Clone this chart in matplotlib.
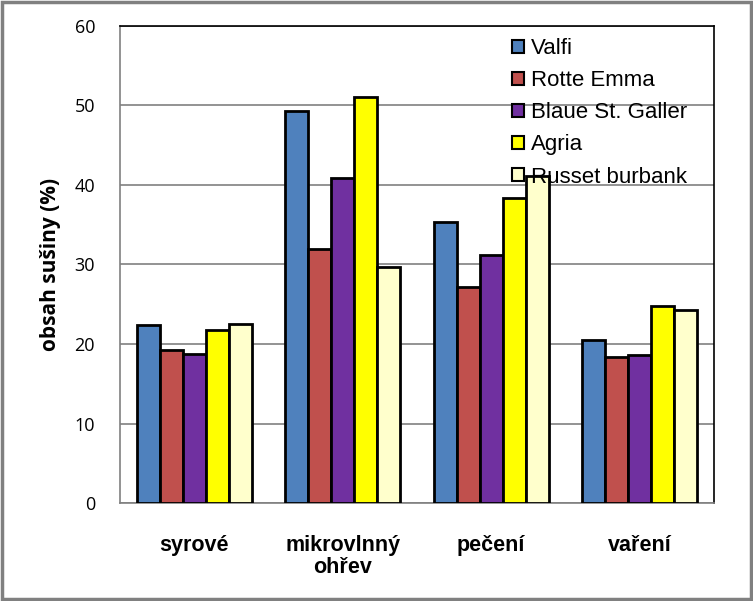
import numpy as np
import matplotlib.pyplot as plt
from matplotlib.patches import Rectangle

categories = ["syrové", "mikrovlnný\nohřev", "pečení", "vaření"]
series = ["Valfi", "Rotte Emma", "Blaue St. Galler", "Agria", "Russet burbank"]
valfi = [22.4, 49.3, 35.3, 20.5]
rotte = [19.3, 31.9, 27.2, 18.3]
blaue = [18.8, 40.9, 31.2, 18.6]
agria = [21.7, 51.1, 38.4, 24.8]
russet = [22.5, 29.7, 41.1, 24.3]
data = [valfi, rotte, blaue, agria, russet]
colors = ["#4f81bd", "#c0504d", "#7030a0", "#ffff00", "#ffffcc"]

fig = plt.figure(figsize=(7.53, 6.01), dpi=100)
fig.patches.append(Rectangle((0.003, 0.003), 0.994, 0.994, transform=fig.transFigure,
                             fill=False, edgecolor="#808080", linewidth=2.5))
ax = fig.add_axes([0.1594, 0.163, 0.7888, 0.794])

x = np.arange(len(categories))
w = 0.155
for i, (vals, c) in enumerate(zip(data, colors)):
    ax.bar(x + (i - 2) * w, vals, w, color=c, edgecolor="black", linewidth=2,
           label=series[i], zorder=3)

ax.set_xlim(-0.5, 3.5)
ax.set_ylim(0, 60)
ax.set_yticks(range(0, 61, 10))
ax.set_yticklabels([str(v) for v in range(0, 61, 10)], family="Open Sans", fontsize=13)
ax.yaxis.grid(True, color="#808080", linewidth=1.2, zorder=0)
ax.tick_params(axis="y", length=0, pad=18)
ax.tick_params(axis="x", length=0, pad=23)
ax.set_xticks(x)
ax.set_xticklabels(categories, fontsize=15.5, fontweight="bold", family="Liberation Sans",
                   linespacing=1.05)
ax.spines["left"].set_color("#808080")
ax.spines["bottom"].set_color("#808080")
ax.spines["top"].set_color("black")
ax.spines["right"].set_color("black")
for s in ax.spines.values():
    s.set_linewidth(1.2)

ax.set_ylabel("obsah sušiny (%)", fontsize=15, fontweight="bold",
              family="Open Sans", labelpad=10)

leg = ax.legend(loc="upper left", bbox_to_anchor=(0.64, 1.0), frameon=False,
                prop={"family": "Liberation Sans", "size": 16},
                handlelength=0.5, handleheight=0.5, handletextpad=0.35,
                labelspacing=0.5, borderaxespad=0.15)
for h in leg.legend_handles:
    h.set_linewidth(1.5)

fig.savefig("out.png", dpi=100)
